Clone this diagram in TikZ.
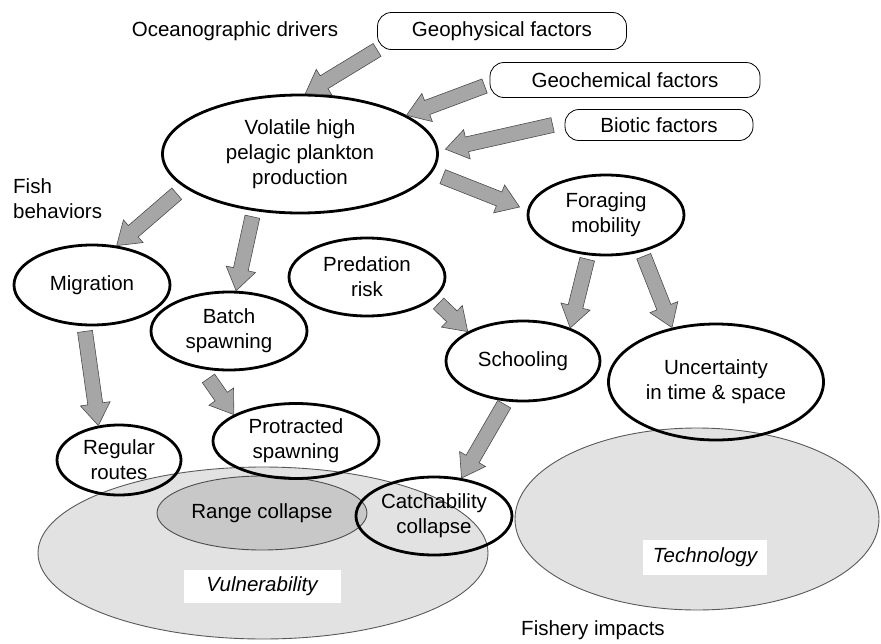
\documentclass[tikz,border=0pt]{standalone}
\usepackage{fontspec}
\setmainfont{Liberation Sans}
\usetikzlibrary{shapes.geometric,calc}

\definecolor{arrowgray}{RGB}{166,166,166}
\definecolor{zonegray}{RGB}{226,226,226}
\definecolor{rangegray}{RGB}{200,200,200}

\newcommand{\figfont}{\fontsize{20.5}{25}\selectfont}

\tikzset{
  bubble/.style={ellipse, draw, line width=2.8pt, inner sep=0pt, align=center},
  pill/.style={draw, line width=0.8pt, rounded corners=14pt, inner sep=0pt},
  zone/.style={ellipse, draw=black!65, fill=zonegray, line width=0.9pt, inner sep=0pt},
  zonelabel/.style={fill=white, inner sep=0pt, font=\figfont\itshape},
  fatarrow/.style={draw=black!70, fill=arrowgray, line width=0.6pt, line join=miter}
}

% block arrow from #1 (tail) to #2 (tip)
\newcommand{\fatarrow}[2]{%
  \draw[fatarrow] let \p1=#1, \p2=#2,
    \n1={atan2(\y2-\y1,\x2-\x1)}, \n2={veclen(\x2-\x1,\y2-\y1)} in
    [shift={(\p1)}, rotate=\n1]
    (0pt,-7.5pt) -- (\n2-22pt,-7.5pt) -- (\n2-22pt,-15pt) -- (\n2,0pt)
    -- (\n2-22pt,15pt) -- (\n2-22pt,7.5pt) -- (0pt,7.5pt) -- cycle;}

\begin{document}
\begin{tikzpicture}[x=1pt, y=-1pt, font=\figfont]
\useasboundingbox (0,0) rectangle (881,643);

% impact zones
\node[zone, minimum width=450pt, minimum height=172pt] (vulzone) at (263,553) {};
\node[zone, minimum width=364pt, minimum height=182pt] (techzone) at (697,519) {};
\node[zonelabel, minimum width=157pt, minimum height=33pt] (vullabel) at (262,586) {Vulnerability};
\node[zonelabel, minimum width=124pt, minimum height=35pt] (techlabel) at (705,557) {Technology};
\node[ellipse, draw=black!70, fill=rangegray, line width=0.9pt, inner sep=0pt,
      minimum width=210pt, minimum height=74pt] (range) at (262,513) {Range collapse};

% plain labels
\node (drivers) at (235,31) {Oceanographic drivers};
\node[anchor=west, align=left, inner sep=0pt] (fish) at (13,199) {Fish\\behaviors};
\node (impacts) at (593,630) {Fishery impacts};

% drivers
\node[pill, minimum width=249pt, minimum height=37pt] (geo) at (502,31) {Geophysical factors};
\node[pill, minimum width=270pt, minimum height=35pt] (chem) at (625,80) {Geochemical factors};
\node[pill, minimum width=188pt, minimum height=31pt] (bio) at (659,125) {Biotic factors};

% behaviours and outcomes
\node[bubble, minimum width=275pt, minimum height=118pt] (vol) at (300,154) {Volatile high\\pelagic plankton\\production};
\node[bubble, minimum width=156pt, minimum height=80pt] (mig) at (92,285) {Migration};
\node[bubble, minimum width=156pt, minimum height=78pt] (batch) at (229,331) {Batch\\spawning};
\node[bubble, minimum width=156pt, minimum height=78pt] (pred) at (367,277) {Predation\\risk};
\node[bubble, minimum width=156pt, minimum height=80pt] (forag) at (606,215) {Foraging\\mobility};
\node[bubble, minimum width=154pt, minimum height=80pt] (school) at (523,361) {Schooling};
\node[bubble, minimum width=215pt, minimum height=116pt] (uncert) at (716,382) {Uncertainty\\in time \& space};
\node[bubble, minimum width=124pt, minimum height=70pt] (routes) at (119,460) {Regular\\routes};
\node[bubble, minimum width=166pt, minimum height=75pt] (protr) at (296,441) {Protracted\\spawning};
\node[bubble, minimum width=156pt, minimum height=78pt] (catch) at (434,516) {Catchability\\collapse};

% arrows
\fatarrow{(geo.south west)}{(vol.85)}
\fatarrow{($(chem.west)+(-5,6)$)}{(vol.20)}
\fatarrow{($(bio.west)+(-12,0)$)}{($(vol.2)+(7,0)$)}
\fatarrow{($(vol.195)+(-5,8)$)}{(mig.58)}
\fatarrow{($(vol.230)+(0,6)$)}{(batch.80)}
\fatarrow{($(vol.350)+(14,0)$)}{($(forag.west)+(-7,-8)$)}
\fatarrow{($(forag.245)+(0,4)$)}{(school.35)}
\fatarrow{($(forag.313)+(3,4)$)}{(uncert.129)}
\fatarrow{($(pred.340)+(7,3)$)}{(school.152)}
\fatarrow{($(mig.south)+(-7,5)$)}{(routes.121)}
\fatarrow{($(batch.246)+(-3,8)$)}{(protr.157)}
\fatarrow{($(school.245)+(0,3)$)}{(catch.54)}
\end{tikzpicture}
\end{document}
